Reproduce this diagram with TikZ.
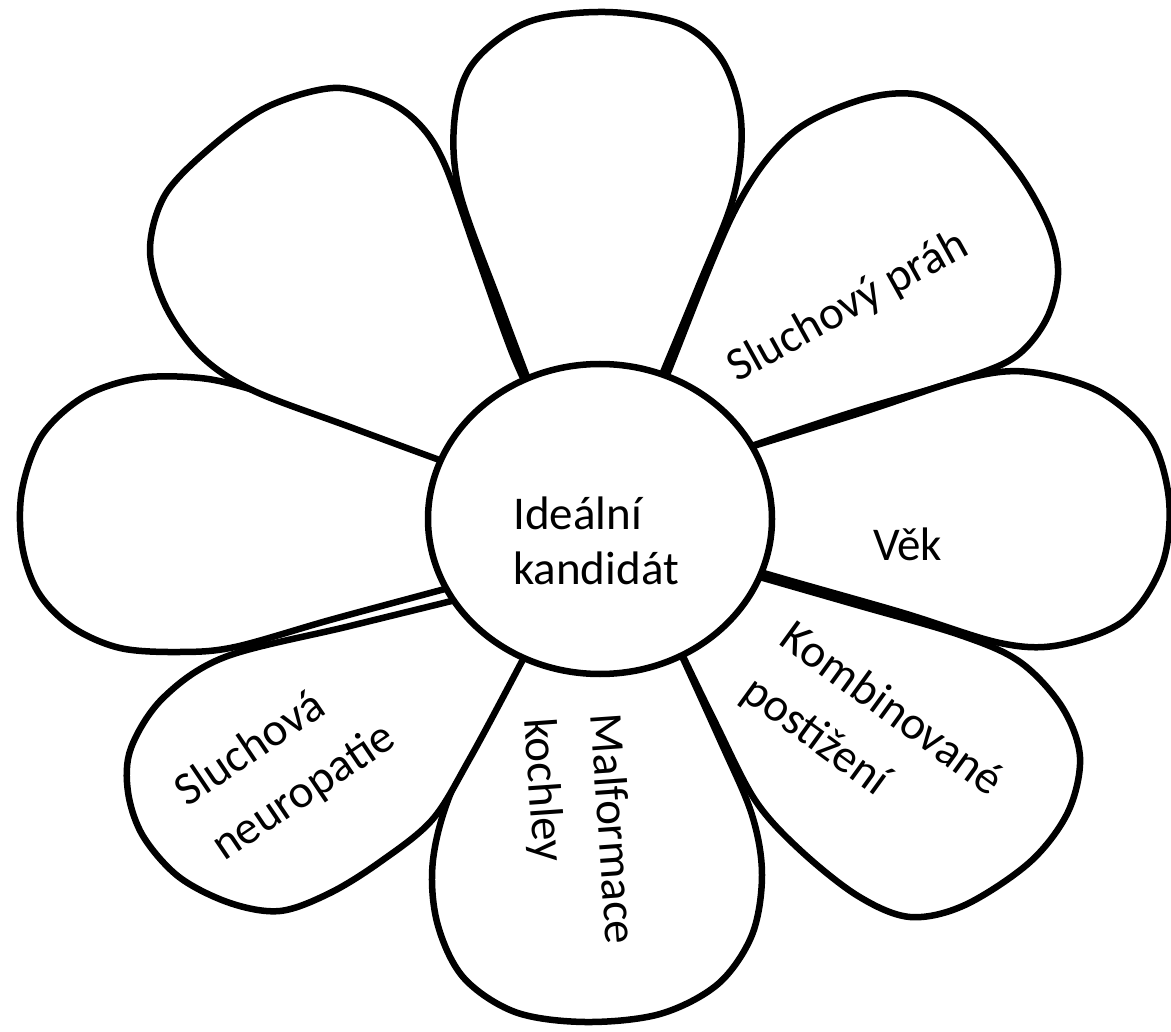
\documentclass[tikz,border=0pt]{standalone}
\usepackage{fontspec}
\setmainfont{Carlito}
\usetikzlibrary{shapes.geometric}
\begin{document}
\begin{tikzpicture}[x=1pt,y=-1pt,
  petal/.style={draw=black, fill=white, line width=6.5pt, line join=round},
  lbl/.style={inner sep=0pt, font=\fontsize{47}{55}\selectfont, align=left},
  rlbl/.style={inner sep=0pt, font=\fontsize{47}{66}\selectfont, align=left}]
\useasboundingbox (0,0) rectangle (1171,1032);
\fill[white] (0,0) rectangle (1171,1032);
% top
\draw[petal] plot[smooth cycle, tension=0.55] coordinates {(590,545) (547,430) (502,310) (459,190) (455,115) (474,62) (528,22) (605,12) (680,24) (722,60) (741,120) (734,195) (697,290) (643,420)};
% upper right
\draw[petal] plot[smooth cycle, tension=0.55] coordinates {(622,492) (669,370) (735,210) (790,135) (860,100) (920,95) (975,124) (1020,175) (1050,230) (1058,275) (1046,320) (1015,357) (960,380) (850,413) (740,450)};
% right
\draw[petal] plot[smooth cycle, tension=0.55] coordinates {(560,511) (700,463) (860,413) (968,378) (1030,372) (1100,392) (1150,437) (1169,500) (1162,565) (1125,620) (1060,645) (1000,643) (900,612) (750,569)};
% lower right
\draw[petal] plot[smooth cycle, tension=0.55] coordinates {(628,540) (700,560) (850,603) (960,635) (1020,662) (1062,707) (1080,757) (1068,812) (1030,862) (965,905) (910,917) (858,896) (800,850) (755,800) (715,722) (680,650)};
% bottom
\draw[petal] plot[smooth cycle, tension=0.55] coordinates {(606,505) (561,590) (500,700) (452,790) (433,860) (437,922) (463,977) (515,1012) (585,1022) (660,1014) (718,984) (752,935) (762,875) (752,815) (720,740) (651,590)};
% lower left
\draw[petal] plot[smooth cycle, tension=0.55] coordinates {(568,572) (480,594) (350,626) (225,657) (163,698) (131,748) (128,792) (143,836) (179,877) (230,903) (280,911) (330,893) (380,862) (432,820) (469,760) (520,665)};
% left
\draw[petal] plot[smooth cycle, tension=0.55] coordinates {(640,528) (560,496) (430,451) (330,415) (250,389) (200,378) (140,378) (85,396) (42,435) (22,490) (22,545) (38,592) (72,627) (120,648) (180,652) (235,647) (330,620) (430,593) (560,558)};
% upper left
\draw[petal] plot[smooth cycle, tension=0.55] coordinates {(572,506) (470,471) (350,427) (252,390) (200,355) (165,305) (150,250) (165,195) (210,148) (267,107) (333,88) (385,100) (420,125) (445,165) (477,255) (511,350)};
% centre
\node[ellipse, draw=black, fill=white, line width=6.5pt, minimum width=344pt, minimum height=310pt, inner sep=0pt] (core) at (600,519) {};
\node[lbl, anchor=north west] (lblcenter) at (513,497) {Ideální\\kandidát};
\node[lbl, anchor=base west] (lblvek) at (873,560) {Věk};
\node[lbl, anchor=base west, rotate=29] (lblprah) at (737,383) {Sluchový práh};
\node[rlbl, anchor=north west, rotate=-36] (lblkomb) at (797,617) {Kombinované\\postižení};
\node[rlbl, anchor=north west, rotate=-86] (lblmal) at (623,712) {Malformace\\kochley};
\node[rlbl, anchor=north west, rotate=34] (lblneuro) at (169,780) {Sluchová\\neuropatie};
\end{tikzpicture}
\end{document}
